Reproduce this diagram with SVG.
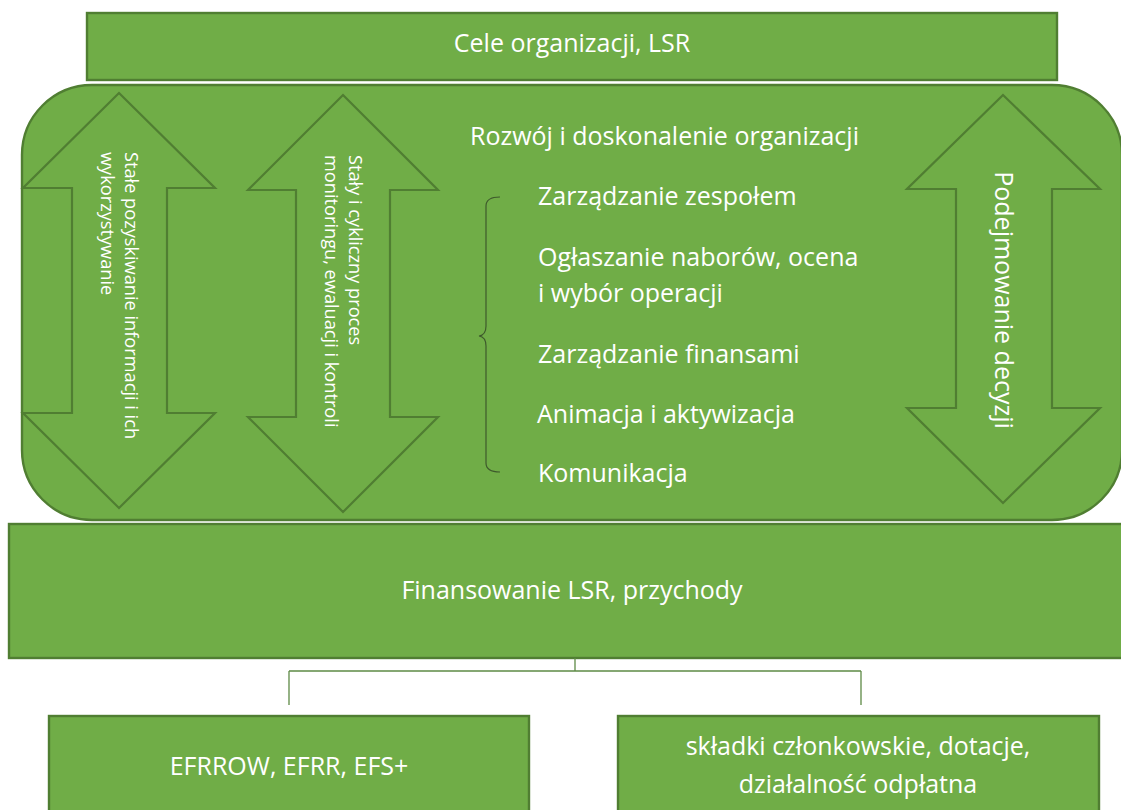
<svg xmlns="http://www.w3.org/2000/svg" width="1121" height="810" viewBox="0 0 1121 810">
<defs>
<style>
.box{fill:#70AD47;stroke:#507E32;stroke-width:2.4}
.arr{fill:#70AD47;stroke:#507E32;stroke-width:2.2;stroke-linejoin:miter}
.t{font-family:"Open Sans","Liberation Sans",sans-serif;fill:#ffffff;font-size:25px}
.ts{font-family:"Open Sans","Liberation Sans",sans-serif;fill:#ffffff;font-size:18.2px}
.tm{text-anchor:middle}
.conn{fill:none;stroke:#5E8A45;stroke-width:1.3}
.brace{fill:none;stroke:#3E5A2C;stroke-width:1.2}
</style>
</defs>
<rect width="1121" height="810" fill="#ffffff"/>

<g id="cele">
<rect class="box" x="87" y="13" width="970" height="67"/>
<text class="t tm" x="572" y="52">Cele organizacji, LSR</text>
</g>

<g id="rozwoj">
<rect class="box" x="22" y="85" width="1100" height="435" rx="70" ry="70"/>
<text class="t" x="470" y="145">Rozwój i doskonalenie organizacji</text>
<path class="brace" d="M500,197 Q486,197 486,206 L486,326 Q486,335 479,336 Q486,337 486,346 L486,463 Q486,472 500,472"/>
<text class="t" x="538" y="205">Zarządzanie zespołem</text>
<text class="t" x="538" y="266">Ogłaszanie naborów, ocena</text>
<text class="t" x="538" y="302">i wybór operacji</text>
<text class="t" x="538" y="363">Zarządzanie finansami</text>
<text class="t" x="537" y="423">Animacja i aktywizacja</text>
<text class="t" x="538" y="482">Komunikacja</text>
</g>

<g id="arrow-informacje">
<polygon class="arr" points="119,93 215,188 167,188 167,413 215,413 119,508 23,413 72,413 72,188 23,188"/>
<text class="ts" transform="translate(125,152) rotate(90)">Stałe pozyskiwanie informacji i ich</text>
<text class="ts" transform="translate(101,152) rotate(90)">wykorzystywanie</text>
</g>

<g id="arrow-monitoring">
<polygon class="arr" points="343,95 438,190 390,190 390,417 438,417 343,512 248,417 296,417 296,190 248,190"/>
<text class="ts" transform="translate(349,155) rotate(90)">Stały i cykliczny proces</text>
<text class="ts" transform="translate(325,155) rotate(90)">monitoringu, ewaluacji i kontroli</text>
</g>

<g id="arrow-decyzje">
<polygon class="arr" points="1003,95 1100,189 1052,189 1052,408 1100,408 1003,503 907,408 956,408 956,189 907,189"/>
<text class="t tm" style="font-size:25px" transform="translate(995,300) rotate(90)">Podejmowanie decyzji</text>
</g>

<g id="finansowanie">
<rect class="box" x="9" y="524" width="1130" height="134"/>
<text class="t tm" x="572" y="599">Finansowanie LSR, przychody</text>
</g>

<g id="connectors">
<path class="conn" d="M575,658 V671 M289,671 H861 M289,671 V705 M861,671 V705"/>
</g>

<g id="efrrow">
<rect class="box" x="49" y="716" width="480" height="110"/>
<text class="t tm" x="289" y="775">EFRROW, EFRR, EFS+</text>
</g>

<g id="skladki">
<rect class="box" x="618" y="716" width="481" height="110"/>
<text class="t tm" x="858" y="755">składki członkowskie, dotacje,</text>
<text class="t tm" x="858" y="793">działalność odpłatna</text>
</g>
</svg>
